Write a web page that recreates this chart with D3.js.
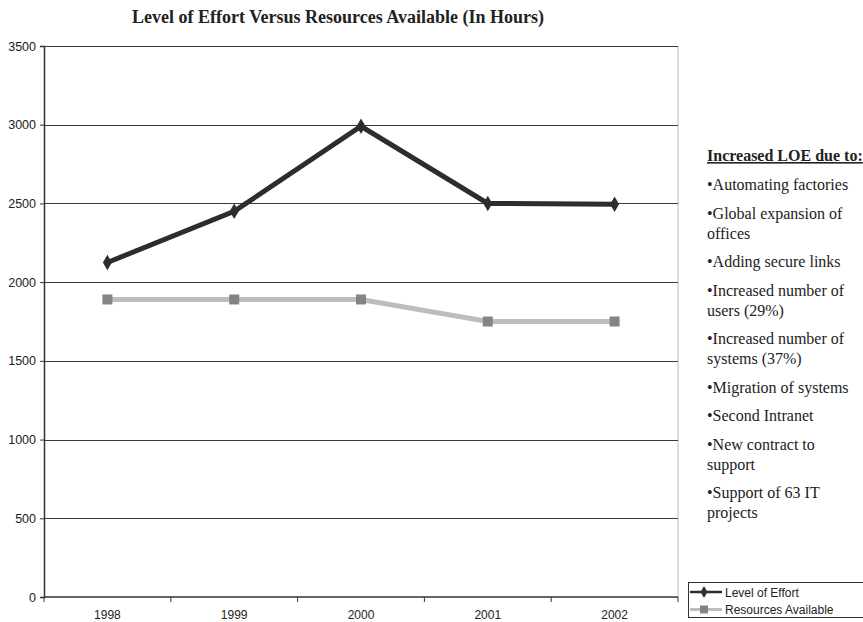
<!DOCTYPE html>
<html>
<head>
<meta charset="utf-8">
<script src="https://cdn.jsdelivr.net/npm/d3@7"></script>
<style>
  html, body { margin: 0; padding: 0; background: #fff; }
  svg { display: block; }
</style>
</head>
<body>
<svg id="chart" width="863" height="622"></svg>
<script>
// Chart data
const years = ["1998", "1999", "2000", "2001", "2002"];
const levelOfEffort = [2125, 2450, 2990, 2500, 2495];
const resourcesAvailable = [1890, 1890, 1890, 1750, 1750];
const yTicks = [0, 500, 1000, 1500, 2000, 2500, 3000, 3500];
const seriesNames = ["Level of Effort", "Resources Available"];
const noteTitle = "Increased LOE due to:";
const notes = [
  ["•Automating factories"],
  ["•Global expansion of", "offices"],
  ["•Adding secure links"],
  ["•Increased number of", "users (29%)"],
  ["•Increased number of", "systems (37%)"],
  ["•Migration of systems"],
  ["•Second Intranet"],
  ["•New contract to", "support"],
  ["•Support of 63 IT", "projects"]
];

const svg = d3.select("#chart");
const plot = { left: 44, right: 678, top: 46, bottom: 597 };
const serif = "'Liberation Serif', 'Times New Roman', serif";
const sans = "'Liberation Sans', Arial, sans-serif";

const x = d3.scaleBand().domain(years).range([plot.left, plot.right]);
const y = d3.scaleLinear().domain([0, 3500]).range([plot.bottom, plot.top]);

// Title
svg.append("text")
  .attr("x", 338).attr("y", 23)
  .attr("text-anchor", "middle")
  .attr("font-family", serif)
  .attr("font-weight", "bold")
  .attr("font-size", 18)
  .attr("fill", "#222")
  .text("Level of Effort Versus Resources Available (In Hours)");

// Right border of plot area
svg.append("line")
  .attr("x1", plot.right).attr("x2", plot.right)
  .attr("y1", plot.top).attr("y2", plot.bottom)
  .attr("stroke", "#bbb").attr("stroke-width", 1);

// Horizontal gridlines
svg.append("g").selectAll("line")
  .data(yTicks.filter(d => d > 0))
  .join("line")
  .attr("x1", plot.left).attr("x2", plot.right)
  .attr("y1", d => Math.round(y(d)) + 0.5).attr("y2", d => Math.round(y(d)) + 0.5)
  .attr("stroke", "#3a3a3a").attr("stroke-width", 1);

// Y axis
const yAxis = svg.append("g")
  .attr("transform", `translate(${plot.left},0)`)
  .call(d3.axisLeft(y).tickValues(yTicks).tickSize(4).tickPadding(4).tickFormat(d3.format("d")));
yAxis.select(".domain").attr("stroke", "#333").attr("stroke-width", 1.5);
yAxis.selectAll(".tick line").attr("stroke", "#333");
yAxis.selectAll("text")
  .attr("font-family", sans)
  .attr("font-size", 12.5).attr("fill", "#222");

// X axis with ticks at category boundaries
const xAxisG = svg.append("g").attr("transform", `translate(0,${plot.bottom})`);
xAxisG.append("line")
  .attr("x1", plot.left).attr("x2", plot.right)
  .attr("y1", 0).attr("y2", 0)
  .attr("stroke", "#333").attr("stroke-width", 1.5);
const boundaries = years.map(d => x(d)).concat([x(years[years.length - 1]) + x.bandwidth()]);
xAxisG.selectAll("line.tick")
  .data(boundaries)
  .join("line")
  .attr("class", "tick")
  .attr("x1", d => d).attr("x2", d => d)
  .attr("y1", 0).attr("y2", 5)
  .attr("stroke", "#333");
xAxisG.selectAll("text")
  .data(years)
  .join("text")
  .attr("x", d => x(d) + x.bandwidth() / 2)
  .attr("y", 22)
  .attr("text-anchor", "middle")
  .attr("font-family", sans)
  .attr("font-size", 12).attr("fill", "#222")
  .text(d => d);

const cx = d => x(d) + x.bandwidth() / 2;
const line = d3.line().x((d, i) => cx(years[i])).y(d => y(d));

// Resources Available series
svg.append("path")
  .datum(resourcesAvailable)
  .attr("d", line)
  .attr("fill", "none")
  .attr("stroke", "#bdbdbf").attr("stroke-width", 5);
svg.append("g").selectAll("rect")
  .data(resourcesAvailable)
  .join("rect")
  .attr("x", (d, i) => cx(years[i]) - 5)
  .attr("y", d => y(d) - 5)
  .attr("width", 10).attr("height", 10)
  .attr("fill", "#848486");

// Level of Effort series
svg.append("path")
  .datum(levelOfEffort)
  .attr("d", line)
  .attr("fill", "none")
  .attr("stroke", "#2d2d2d").attr("stroke-width", 5)
  .attr("stroke-linejoin", "miter");
const diamond = d3.symbol().type(d3.symbolDiamond).size(70);
svg.append("g").selectAll("path")
  .data(levelOfEffort)
  .join("path")
  .attr("transform", (d, i) => `translate(${cx(years[i])},${y(d)})`)
  .attr("d", diamond)
  .attr("fill", "#2d2d2d");

// Notes list on the right
const notesG = svg.append("g")
  .attr("font-family", serif)
  .attr("font-size", 16)
  .attr("fill", "#222");
notesG.append("text")
  .attr("x", 707).attr("y", 161)
  .attr("font-weight", "bold")
  .attr("text-decoration", "underline")
  .text(noteTitle);
let ny = 190;
notes.forEach(item => {
  item.forEach((ln, j) => {
    notesG.append("text")
      .attr("x", 707).attr("y", ny + j * 20)
      .text(ln);
  });
  ny += (item.length - 1) * 20 + 28.5;
});

// Legend
const lg = svg.append("g");
lg.append("rect")
  .attr("x", 688.5).attr("y", 582.5)
  .attr("width", 200).attr("height", 35)
  .attr("fill", "#fff").attr("stroke", "#333").attr("stroke-width", 1);
const legendRows = [
  { name: seriesNames[0], color: "#2d2d2d", marker: "diamond" },
  { name: seriesNames[1], color: "#bdbdbf", marker: "square" }
];
legendRows.forEach((r, i) => {
  const ly = 592 + i * 17.5;
  lg.append("line")
    .attr("x1", 690).attr("x2", 722)
    .attr("y1", ly).attr("y2", ly)
    .attr("stroke", r.color).attr("stroke-width", r.marker === "diamond" ? 2.5 : 3);
  if (r.marker === "diamond") {
    lg.append("path")
      .attr("transform", `translate(704,${ly})`)
      .attr("d", d3.symbol().type(d3.symbolDiamond).size(40))
      .attr("fill", r.color);
  } else {
    lg.append("rect")
      .attr("x", 700).attr("y", ly - 4)
      .attr("width", 8).attr("height", 8)
      .attr("fill", "#848486");
  }
  lg.append("text")
    .attr("x", 725).attr("y", ly + 4.5)
    .attr("font-family", sans)
    .attr("font-size", 12).attr("fill", "#222")
    .text(r.name);
});
</script>
</body>
</html>
